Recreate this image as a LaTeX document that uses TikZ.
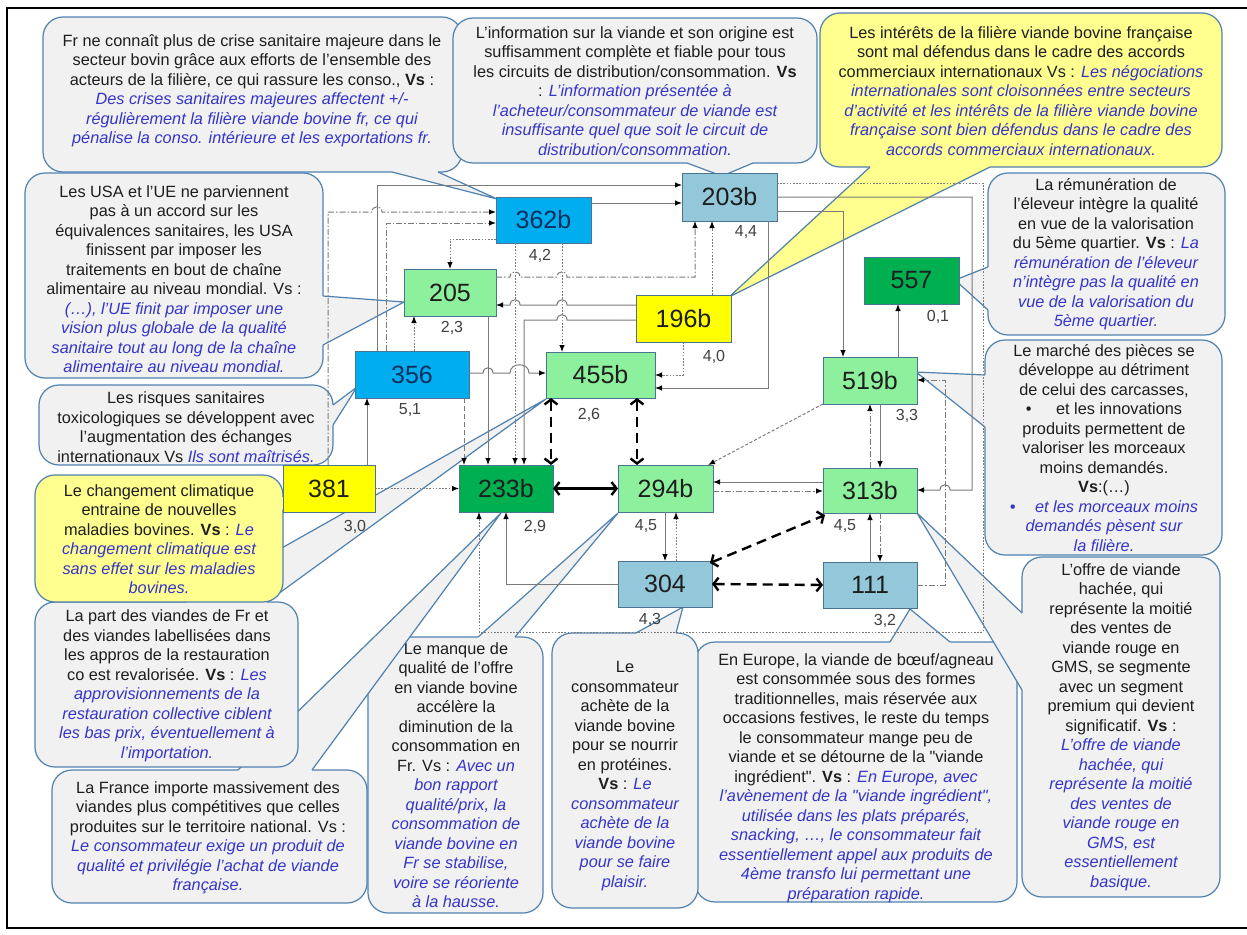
\documentclass[tikz,border=0pt]{standalone}
\usepackage{fontspec}
\setmainfont{Liberation Sans}[Ligatures=TeXOff]
\usetikzlibrary{arrows.meta,calc}

\definecolor{callfill}{HTML}{F1F1F1}
\definecolor{callyel}{HTML}{FFFF8F}
\definecolor{callline}{HTML}{4F81AF}
\definecolor{vsblue}{HTML}{3535C8}
\definecolor{txt}{HTML}{1E1E1E}
\definecolor{bblue}{HTML}{00AEEF}
\definecolor{bsteel}{HTML}{93C8DA}
\definecolor{blgreen}{HTML}{8DF09C}
\definecolor{bdgreen}{HTML}{00AF50}
\definecolor{byellow}{HTML}{FFFF00}
\definecolor{bedge}{HTML}{4A7394}
\definecolor{linegray}{HTML}{7A7A7A}
\definecolor{navytext}{HTML}{0C2F5E}

% italic blue counter-hypothesis text
\newcommand{\blueit}[1]{{\color{vsblue}\itshape #1}}
% rounded callout with a wedge: fill, corner, corner, base1, tip, base2, inward shift
\newcommand{\callout}[7]{%
  \draw[fill=#1, draw=callline, line width=1.2pt, rounded corners=20pt] (#2) rectangle (#3);
  \fill[#1] ($(#4)+(#7)$) -- (#4) -- (#5) -- (#6) -- ($(#6)+(#7)$) -- cycle;
  \draw[callline, line width=1.2pt, line join=miter] (#4) -- (#5) -- (#6);
}

\begin{document}
\begin{tikzpicture}[x=1pt,y=-1pt,
  box/.style={draw=bedge, line width=0.8pt, inner sep=0pt, outer sep=0pt,
    text=txt, font=\fontsize{25}{25}\selectfont},
  score/.style={font=\fontsize{16}{16}\selectfont, text=txt!85, inner sep=1pt},
  calltext/.style={align=center, inner sep=0pt, text=txt,
    font=\fontsize{16.3}{19.5}\selectfont},
  link/.style={draw=linegray, line width=1pt,
    -{Latex[length=7pt,width=5.5pt,color=black]}},
  dsh/.style={link, dash pattern=on 5pt off 3pt},
  dashdot/.style={link, dash pattern=on 6pt off 2pt on 1.5pt off 2pt},
  dotline/.style={link, dash pattern=on 1.6pt off 1.6pt},
  heavy/.style={draw=black, line width=2.4pt,
    {Straight Barb[length=5pt,width=13pt]}-{Straight Barb[length=5pt,width=13pt]}},
  heavydash/.style={heavy, dash pattern=on 10pt off 6pt},
]
\useasboundingbox (0,0) rectangle (1247,934);
\fill[white] (0,0) rectangle (1247,934);
\draw[line width=1.8pt] (7,8) rectangle (1255,928);

% ---------- callouts ----------
\callout{callfill}{368,637}{543,913}{478,637}{618,513}{515,637}{0,3}
\node[calltext] (tc9) at (456,775) {Le manque de\\ qualité de l’offre\\ en viande bovine\\ accélère la\\ diminution de la\\ consommation en\\ Fr. Vs : \blueit{Avec un}\\ \blueit{bon rapport}\\ \blueit{qualité/prix, la}\\ \blueit{consommation de}\\ \blueit{viande bovine en}\\ \blueit{Fr se stabilise,}\\ \blueit{voire se réoriente}\\ \blueit{à la hausse.}};

\callout{callfill}{52,770}{367,903}{238,770}{501,513}{312,770}{0,3}
\node[calltext] (tc8) at (208,838) {La France importe massivement des\\ viandes plus compétitives que celles\\ produites sur le territoire national. Vs :\\ \blueit{Le consommateur exige un produit de}\\ \blueit{qualité et privilégie l’achat de viande}\\ \blueit{française.}};

\callout{callfill}{35,602}{298,767}{186,602}{546,399}{267,602}{0,3}
\node[calltext] (tc7) at (167,686) {La part des viandes de Fr et\\ des viandes labellisées dans\\ les appros de la restauration\\ co est revalorisée. \textbf{Vs} : \blueit{Les}\\ \blueit{approvisionnements de la}\\ \blueit{restauration collective ciblent}\\ \blueit{les bas prix, éventuellement à}\\ \blueit{l’importation.}};

\callout{callyel}{35,475}{283,602}{283,497}{293,488}{283,510}{-3,0}
\node[calltext] (tc6) at (159,539) {Le changement climatique\\ entraine de nouvelles\\ maladies bovines. \textbf{Vs} : \blueit{Le}\\ \blueit{changement climatique est}\\ \blueit{sans effet sur les maladies}\\ \blueit{bovines.}};

\callout{callfill}{39,385}{333,465}{333,405}{357,387}{333,425}{-3,0}
\node[calltext] (tc5) at (186,427) {Les risques sanitaires\\ toxicologiques se développent avec\\ l’augmentation des échanges\\ internationaux Vs \blueit{Ils sont maîtrisés.}};

\callout{callfill}{25,173}{323,378}{323,296}{404,302}{323,345}{-3,0}
\node[calltext] (tc4) at (174,279) {Les USA et l’UE ne parviennent\\ pas à un accord sur les\\ équivalences sanitaires, les USA\\ finissent par imposer les\\ traitements en bout de chaîne\\ alimentaire au niveau mondial. Vs :\\ \blueit{(…), l’UE finit par imposer une}\\ \blueit{vision plus globale de la qualité}\\ \blueit{sanitaire tout au long de la chaîne}\\ \blueit{alimentaire au niveau mondial.}};

\callout{callfill}{43,17}{462,172}{392,172}{497,199}{438,172}{0,-3}
\node[calltext] (tc1) at (252,91) {Fr ne connaît plus de crise sanitaire majeure dans le\\ secteur bovin grâce aux efforts de l’ensemble des\\ acteurs de la filière, ce qui rassure les conso., \textbf{Vs} :\\ \blueit{Des crises sanitaires majeures affectent +/-}\\ \blueit{régulièrement la filière viande bovine fr, ce qui}\\ \blueit{pénalise la conso. intérieure et les exportations fr.}};

\callout{callfill}{453,18}{817,163}{687,163}{722,176}{753,163}{0,-3}
\node[calltext] (tc2) at (635,91) {L’information sur la viande et son origine est\\ suffisamment complète et fiable pour tous\\ les circuits de distribution/consommation. \textbf{Vs}\\ : \blueit{L’information présentée à}\\ \blueit{l’acheteur/consommateur de viande est}\\ \blueit{insuffisante quel que soit le circuit de}\\ \blueit{distribution/consommation.}};

\callout{callyel}{820,13}{1222,167}{870,167}{729,297}{990,167}{0,-3}
\node[calltext] (tc3) at (1021,91) {Les intérêts de la filière viande bovine française\\ sont mal défendus dans le cadre des accords\\ commerciaux internationaux Vs : \blueit{Les négociations}\\ \blueit{internationales sont cloisonnées entre secteurs}\\ \blueit{d’activité et les intérêts de la filière viande bovine}\\ \blueit{française sont bien défendus dans le cadre des}\\ \blueit{accords commerciaux internationaux.}};

\callout{callfill}{988,173}{1225,335}{988,267}{955,280}{988,310}{3,0}
\node[calltext] (tc14) at (1106,254) {La rémunération de\\ l’éleveur intègre la qualité\\ en vue de la valorisation\\ du 5ème quartier. \textbf{Vs} : \blueit{La}\\ \blueit{rémunération de l’éleveur}\\ \blueit{n’intègre pas la qualité en}\\ \blueit{vue de la valorisation du}\\ \blueit{5ème quartier.}};

\callout{callfill}{985,340}{1222,555}{985,375}{916,372}{985,427}{3,0}
\node[calltext] (tc13) at (1104,448) {Le marché des pièces se\\ développe au détriment\\ de celui des carcasses,\\ •\hspace{1.5em}et les innovations\\ produits permettent de\\ valoriser les morceaux\\ moins demandés.\\ \textbf{Vs}:(…)\\ \blueit{•\hspace{1.2em}et les morceaux moins}\\ \blueit{demandés pèsent sur}\\ \blueit{la filière.}};

\callout{callfill}{695,642}{1017,902}{890,642}{910,609}{950,642}{0,3}
\node[calltext] (tc11) at (856,778) {En Europe, la viande de bœuf/agneau\\ est consommée sous des formes\\ traditionnelles, mais réservée aux\\ occasions festives, le reste du temps\\ le consommateur mange peu de\\ viande et se détourne de la "viande\\ ingrédient". \textbf{Vs} : \blueit{En Europe, avec}\\ \blueit{l’avènement de la "viande ingrédient",}\\ \blueit{utilisée dans les plats préparés,}\\ \blueit{snacking, …, le consommateur fait}\\ \blueit{essentiellement appel aux produits de}\\ \blueit{4ème transfo lui permettant une}\\ \blueit{préparation rapide.}};

\callout{callfill}{1022,557}{1220,897}{1022,613}{917,513}{1022,690}{3,0}
\node[calltext] (tc12) at (1121,727) {L’offre de viande\\ hachée, qui\\ représente la moitié\\ des ventes de\\ viande rouge en\\ GMS, se segmente\\ avec un segment\\ premium qui devient\\ significatif. \textbf{Vs} :\\ \blueit{L’offre de viande}\\ \blueit{hachée, qui}\\ \blueit{représente la moitié}\\ \blueit{des ventes de}\\ \blueit{viande rouge en}\\ \blueit{GMS, est}\\ \blueit{essentiellement}\\ \blueit{basique.}};

\callout{callfill}{552,633}{698,908}{636,633}{683,607}{676,633}{0,3}
\node[calltext] (tc10) at (625,776) {Le\\ consommateur\\ achète de la\\ viande bovine\\ pour se nourrir\\ en protéines.\\ \textbf{Vs} : \blueit{Le}\\ \blueit{consommateur}\\ \blueit{achète de la}\\ \blueit{viande bovine}\\ \blueit{pour se faire}\\ \blueit{plaisir.}};

% ---------- boxes ----------
\node[box, fill=bblue, text=navytext, minimum width=95pt, minimum height=46pt] (b362) at (543.5,220) {362b};
\node[box, fill=bsteel, minimum width=95pt, minimum height=48pt] (b203) at (729.5,197) {203b};
\node[box, fill=blgreen, minimum width=92pt, minimum height=47pt] (b205) at (450,292.5) {205};
\node[box, fill=byellow, minimum width=95pt, minimum height=47pt] (b196) at (683.5,318.5) {196b};
\node[box, fill=bdgreen, minimum width=95pt, minimum height=47pt] (b557) at (911.5,280.5) {557};
\node[box, fill=bblue, text=navytext, minimum width=114pt, minimum height=47pt] (b356) at (412,374.5) {356};
\node[box, fill=blgreen, minimum width=109pt, minimum height=46pt] (b455) at (600.5,375) {455b};
\node[box, fill=blgreen, minimum width=94pt, minimum height=47pt] (b519) at (870,380.5) {519b};
\node[box, fill=byellow, minimum width=92pt, minimum height=47pt] (b381) at (329,488.5) {381};
\node[box, fill=bdgreen, minimum width=94pt, minimum height=47pt] (b233) at (506,488.5) {233b};
\node[box, fill=blgreen, minimum width=95pt, minimum height=47pt] (b294) at (665.5,488.5) {294b};
\node[box, fill=blgreen, minimum width=94pt, minimum height=45pt] (b313) at (870,490.5) {313b};
\node[box, fill=bsteel, minimum width=94pt, minimum height=46pt] (b304) at (665,584) {304};
\node[box, fill=bsteel, minimum width=94pt, minimum height=46pt] (b111) at (870,585) {111};

% ---------- connectors ----------
% from 381
\draw[dashdot] (328,0 |- b381.north) -- (328,212) -- (372,212) .. controls (372,205) and (382,205) .. (382,212) -- (b362.west |- 0,212);
\draw[link] (367,0 |- b381.north) -- (367,0 |- b356.south);
\draw[dotline] (b381.east) -- (b233.west);
% from 356
\draw[link] (377,0 |- b356.north) -- (377,185) -- (b203.west |- 0,185);
\draw[dashdot] (386,0 |- b356.north) -- (386,223) -- (b362.west |- 0,223);
\draw[dotline] (414,0 |- b356.north) -- (414,0 |- b205.south);
\draw[dsh] (464,0 |- b356.south) -- (464,0 |- b233.north);
\draw[link] (b356.east |- 0,373) -- (483,373) .. controls (483,366) and (493,366) .. (493,373)
  -- (510,373) .. controls (510,362) and (529,362) .. (529,373) -- (b455.west |- 0,373);
% from 362b
\draw[link] (b362.east |- 0,203) -- (b203.west |- 0,203);
\draw[dotline] (b362.west |- 0,239) -- (450,239) -- (450,0 |- b205.north);
\draw[dotline] (562,0 |- b362.south) -- (562,0 |- b455.north);
\draw[dotline] (515,0 |- b362.south) -- (515,0 |- b233.north);
% from 205
\draw[dashdot] (b205.east |- 0,277) -- (510,277) .. controls (510,270) and (520,270) .. (520,277)
  -- (557,277) .. controls (557,270) and (567,270) .. (567,277) -- (695,277) -- (695,0 |- b203.south);
\draw[link] (488,0 |- b205.south) -- (488,0 |- b233.north);
% from 196b
\draw[link] (b196.west |- 0,305) -- (567,305) .. controls (567,298) and (557,298) .. (557,305)
  -- (520,305) .. controls (520,298) and (510,298) .. (510,305) -- (b205.east |- 0,305);
\draw[link] (b196.west |- 0,320) -- (567,320) .. controls (567,313) and (557,313) .. (557,320)
  -- (524,320) -- (524,0 |- b233.north);
\draw[dotline] (712,0 |- b196.north) -- (712,0 |- b203.south);
\draw[dotline] (683,0 |- b196.south) -- (683,375) -- (b455.east |- 0,375);
% from 203b
\draw[link] (768,0 |- b203.south) -- (768,388) -- (b455.east |- 0,388);
\draw[link] (b203.east |- 0,211) -- (843,211) -- (843,0 |- b519.north);
\draw[link] (b203.east |- 0,197) -- (972,197) -- (972,490) -- (950,490)
  .. controls (950,483) and (940,483) .. (940,490) -- (b313.east |- 0,490);
\draw[dotline] (b203.east |- 0,183) -- (983,183) -- (983,632) -- (479,632) -- (479,0 |- b233.south);
% right column
\draw[dashdot] (b111.east |- 0,585) -- (945,585) -- (945,380) -- (b519.east |- 0,380);
\draw[link] (898,0 |- b519.north) -- (898,0 |- b557.south);
\draw[dashdot] (870,0 |- b313.north) -- (870,0 |- b519.south);
\draw[link] (880,0 |- b519.south) -- (880,0 |- b313.north);
\draw[link] (870,0 |- b111.north) -- (870,0 |- b313.south);
\draw[dashdot] (880,0 |- b313.south) -- (880,0 |- b111.north);
\draw[link, dash pattern=on 3pt off 2pt] (b519.south west) -- ($(b294.north east)+(-5,0)$);
% 294b / 313b / 304
\draw[link] (b313.west |- 0,482) -- (b294.east |- 0,482);
\draw[dashdot] (b294.east |- 0,491) -- (b313.west |- 0,491);
\draw[link] (665,0 |- b294.south) -- (665,0 |- b304.north);
\draw[dotline] (676,0 |- b304.north) -- (676,0 |- b294.south);
\draw[link] (b304.west) -- (506,0 |- b304.west) -- (506,0 |- b233.south);
% heavy links
\draw[heavy] (b233.east) -- (b294.west);
\draw[heavydash] (551,0 |- b455.south) -- (551,0 |- b233.north);
\draw[heavydash] (637,0 |- b455.south) -- (637,0 |- b294.north);
\draw[heavydash] (b304.east) -- (b111.west);
\draw[heavydash] ($(b304.north east)+(-2,2)$) -- ($(b313.south west)+(2,2)$);

% ---------- scores ----------
\node[score] (s362) at (540,256) {4,2};
\node[score] (s203) at (746,232) {4,4};
\node[score] (s205) at (452,328) {2,3};
\node[score] (s196) at (714,357) {4,0};
\node[score] (s557) at (938,317) {0,1};
\node[score] (s356) at (410,410) {5,1};
\node[score] (s455) at (589,415) {2,6};
\node[score] (s519) at (907,416) {3,3};
\node[score] (s381) at (355,527) {3,0};
\node[score] (s233) at (535,527) {2,9};
\node[score] (s294) at (646,526) {4,5};
\node[score] (s313) at (845,526) {4,5};
\node[score] (s304) at (650,620) {4,3};
\node[score] (s111) at (885,621) {3,2};
\end{tikzpicture}
\end{document}
